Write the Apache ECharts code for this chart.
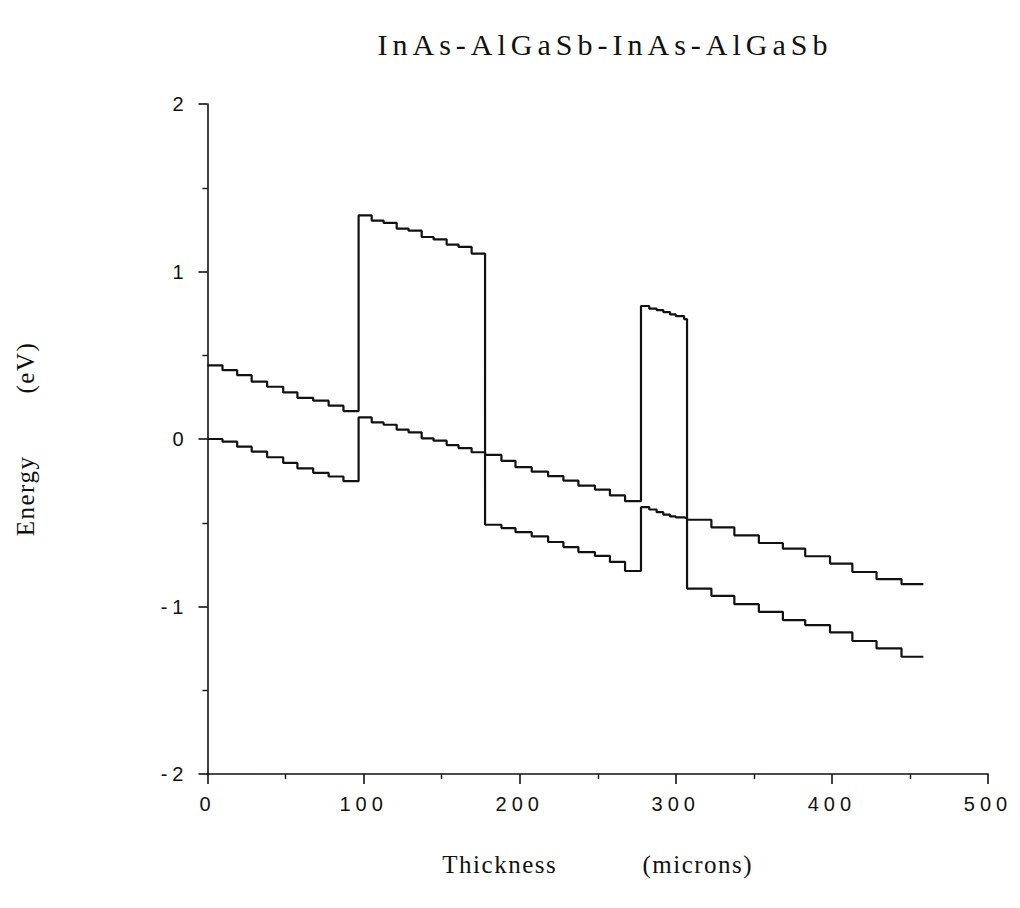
<!DOCTYPE html>
<html>
<head>
<meta charset="utf-8">
<script src="https://cdn.jsdelivr.net/npm/echarts@6/dist/echarts.min.js"></script>
<style>
  html, body { margin: 0; padding: 0; background: #fff; }
  #chart { width: 1020px; height: 908px; }
  text { white-space: pre; }
  /* spaced lettering for tick numbers and titles */
  text[style*="20px"] { letter-spacing: 5px; }
  text[style*="30px"] { letter-spacing: 5px; }
  text[style*="25px"] { letter-spacing: 1.5px; }
</style>
</head>
<body>
<div id="chart"></div>
<script>
// Left edge of every sub-layer (microns), shared by both band edges
const layerEdges = [
  0, 9.6, 19.0, 28.3, 38.2, 48.5, 57.6, 67.7, 77.6, 87.1,
  96.8, 105.2, 112.8, 121.2, 128.8, 137.2, 144.8, 153.2, 160.8, 169.2,
  177.8, 188.3, 197.3, 207.7, 218.2, 228.0, 237.6, 248.2, 257.8, 267.5,
  277.7, 283.0, 287.7, 292.0, 296.3, 300.0, 305.3,
  307.2, 322.8, 337.5, 353.2, 368.6, 382.9, 398.8, 413.1, 428.6, 444.6
];
const stackEnd = 458.6;

// Conduction band edge (eV) in each sub-layer
const conductionBand = [
  0.440, 0.411, 0.381, 0.342, 0.312, 0.278, 0.246, 0.229, 0.199, 0.167,
  1.335, 1.304, 1.290, 1.256, 1.244, 1.206, 1.192, 1.161, 1.147, 1.107,
  -0.095, -0.130, -0.168, -0.195, -0.222, -0.248, -0.278, -0.302, -0.337, -0.371,
  0.794, 0.778, 0.770, 0.758, 0.744, 0.734, 0.716,
  -0.482, -0.528, -0.575, -0.621, -0.655, -0.700, -0.744, -0.794, -0.837, -0.867
];

// Valence band edge (eV) in each sub-layer
const valenceBand = [
  0.000, -0.016, -0.046, -0.075, -0.109, -0.143, -0.175, -0.202, -0.224, -0.252,
  0.129, 0.099, 0.085, 0.056, 0.040, 0.004, -0.010, -0.036, -0.054, -0.079,
  -0.512, -0.532, -0.556, -0.581, -0.615, -0.645, -0.675, -0.698, -0.734, -0.788,
  -0.407, -0.421, -0.437, -0.451, -0.462, -0.468, -0.472,
  -0.893, -0.937, -0.986, -1.032, -1.081, -1.111, -1.155, -1.206, -1.250, -1.300
];

const xTicks = { min: 0, max: 500, step: 100 };
const yTicks = { min: -2, max: 2, step: 1 };

function bandPoints(levels) {
  const pts = layerEdges.map((x, i) => [x, levels[i]]);
  pts.push([stackEnd, levels[levels.length - 1]]);
  return pts;
}

const ink = '#111';
const chart = echarts.init(document.getElementById('chart'), null, { renderer: 'svg' });

chart.setOption({
  animation: false,
  backgroundColor: '#fff',
  title: {
    text: 'InAs-AlGaSb-InAs-AlGaSb',
    left: 600,
    top: 24,
    textAlign: 'center',
    textStyle: { fontFamily: 'Liberation Serif', fontSize: 30, fontWeight: 'normal', color: ink }
  },
  grid: { left: 207.5, right: 32, top: 104, bottom: 134 },
  xAxis: {
    type: 'value',
    min: xTicks.min, max: xTicks.max, interval: xTicks.step,
    name: 'Thickness           (microns)',
    nameLocation: 'middle',
    nameGap: 78,
    nameTextStyle: { fontFamily: 'Liberation Serif', fontSize: 25, color: ink },
    axisLine: { onZero: false, lineStyle: { color: ink, width: 1.6 } },
    axisTick: { length: 10, lineStyle: { color: ink, width: 1.6 } },
    minorTick: { show: true, splitNumber: 2, length: 5, lineStyle: { color: ink, width: 1.4 } },
    splitLine: { show: false },
    axisLabel: { margin: 20, fontFamily: 'Liberation Sans', fontSize: 20, color: ink }
  },
  yAxis: {
    type: 'value',
    min: yTicks.min, max: yTicks.max, interval: yTicks.step,
    name: 'Energy        (eV)',
    nameLocation: 'middle',
    nameGap: 170,
    nameRotate: 90,
    nameTextStyle: { fontFamily: 'Liberation Serif', fontSize: 25, color: ink },
    axisLine: { onZero: false, lineStyle: { color: ink, width: 1.6 } },
    axisTick: { length: 9, lineStyle: { color: ink, width: 1.6 } },
    minorTick: { show: true, splitNumber: 2, length: 5, lineStyle: { color: ink, width: 1.4 } },
    splitLine: { show: false },
    axisLabel: { margin: 19, fontFamily: 'Liberation Sans', fontSize: 20, color: ink }
  },
  series: [
    {
      name: 'Conduction band',
      type: 'line',
      step: 'end',
      showSymbol: false,
      lineStyle: { color: ink, width: 2.2 },
      data: bandPoints(conductionBand)
    },
    {
      name: 'Valence band',
      type: 'line',
      step: 'end',
      showSymbol: false,
      lineStyle: { color: ink, width: 2.2 },
      data: bandPoints(valenceBand)
    }
  ]
});
</script>
</body>
</html>
